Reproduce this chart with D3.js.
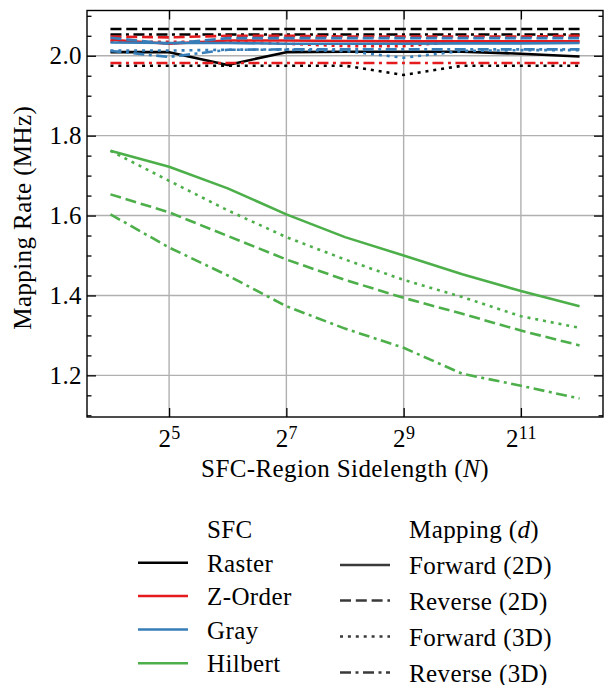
<!DOCTYPE html>
<html><head><meta charset="utf-8">
<script src="https://cdn.jsdelivr.net/npm/d3@7"></script>
<style>
body{margin:0;background:#fff}
text{font-family:"Liberation Serif","DejaVu Serif",serif;fill:#000;letter-spacing:0.4px}
</style>
</head><body><svg id="c" width="608" height="685"></svg>
<script>
// ---------------- data ----------------
const sizes = [16, 32, 64, 128, 256, 512, 1024, 2048, 4096];
const sfcNames = ["Raster", "Z-Order", "Gray", "Hilbert"];
const sfcColors = ["#000000", "#e41a1c", "#377eb8", "#4daf4a"];
const mappingNames = ["Forward (2D)", "Reverse (2D)", "Forward (3D)", "Reverse (3D)"];

const rasterFwd2D  = [2.009, 2.009, 1.977, 2.009, 2.010, 2.010, 2.010, 2.005, 1.998];
const rasterRev2D  = [2.067, 2.067, 2.067, 2.067, 2.067, 2.067, 2.067, 2.067, 2.067];
const rasterFwd3D  = [1.975, 1.975, 1.975, 1.975, 1.975, 1.952, 1.975, 1.975, 1.975];
const rasterRev3D  = [2.053, 2.053, 2.053, 2.053, 2.053, 2.053, 2.053, 2.053, 2.053];

const zorderFwd2D  = [2.040, 2.030, 2.038, 2.038, 2.037, 2.036, 2.036, 2.036, 2.036];
const zorderRev2D  = [2.048, 2.046, 2.050, 2.050, 2.048, 2.048, 2.048, 2.048, 2.050];
const zorderFwd3D  = [2.035, 2.035, 2.035, 2.030, 2.024, 2.024, 2.036, 2.036, 2.036];
const zorderRev3D  = [1.982, 1.982, 1.982, 1.982, 1.982, 1.982, 1.982, 1.982, 1.982];

const grayFwd2D    = [2.033, 2.032, 2.032, 2.030, 2.030, 2.030, 2.031, 2.031, 2.032];
const grayRev2D    = [2.045, 2.030, 2.044, 2.044, 2.044, 2.044, 2.044, 2.044, 2.044];
const grayFwd3D    = [2.013, 2.013, 2.015, 2.015, 2.012, 1.995, 2.012, 2.014, 2.014];
const grayRev3D    = [2.012, 1.997, 2.015, 2.016, 2.016, 2.016, 2.016, 2.016, 2.016];

const hilbertFwd2D = [1.762, 1.722, 1.668, 1.603, 1.546, 1.500, 1.453, 1.411, 1.373];
const hilbertRev2D = [1.653, 1.608, 1.549, 1.490, 1.439, 1.394, 1.354, 1.312, 1.275];
const hilbertFwd3D = [1.762, 1.687, 1.613, 1.546, 1.490, 1.439, 1.396, 1.348, 1.319];
const hilbertRev3D = [1.603, 1.520, 1.450, 1.373, 1.317, 1.269, 1.204, 1.174, 1.142];

const seriesValues = [
  [rasterFwd2D, rasterRev2D, rasterFwd3D, rasterRev3D],
  [zorderFwd2D, zorderRev2D, zorderFwd3D, zorderRev3D],
  [grayFwd2D, grayRev2D, grayFwd3D, grayRev3D],
  [hilbertFwd2D, hilbertRev2D, hilbertFwd3D, hilbertRev3D]
];

const xTickExps = [5, 7, 9, 11];
const yMajorTicks = [1.2, 1.4, 1.6, 1.8, 2.0];
const yMinorTicks = [1.1, 1.15, 1.25, 1.3, 1.35, 1.45, 1.5, 1.55, 1.65, 1.7, 1.75, 1.85, 1.9, 1.95, 2.05, 2.1];
const xLabel = "SFC-Region Sidelength";
const yLabel = "Mapping Rate (MHz)";

// ---------------- layout ----------------
const FS = "25px";
const svg = d3.select("#c");
const L = 87, R = 603, T = 10.5, B = 417;
const W = R - L, H = B - T;
const dashes = [null, "11,4.8", "3,4.9", "11,4.5,3,4.5"];
const lw = 2.6;

const allVals = seriesValues.flat(2);
const vmin = d3.min(allVals), vmax = d3.max(allVals), pad = (vmax - vmin) * 0.05;
const x = d3.scaleLog().base(2).domain([Math.pow(2, 3.6), Math.pow(2, 12.4)]).range([0, W]);
const y = d3.scaleLinear().domain([vmin - pad, vmax + pad]).range([H, 0]);

const g = svg.append("g").attr("transform", `translate(${L},${T})`);

// grid
g.append("g").selectAll("line").data(xTickExps).join("line")
  .attr("x1", d => x(Math.pow(2, d))).attr("x2", d => x(Math.pow(2, d)))
  .attr("y1", 0).attr("y2", H).attr("stroke", "#b0b0b0").attr("stroke-width", 1.4);
g.append("g").selectAll("line").data(yMajorTicks).join("line")
  .attr("y1", d => y(d)).attr("y2", d => y(d))
  .attr("x1", 0).attr("x2", W).attr("stroke", "#b0b0b0").attr("stroke-width", 1.4);

// lines
const line = d3.line().x((d, i) => x(sizes[i])).y(d => y(d));
svg.append("clipPath").attr("id", "clp").append("rect").attr("width", W).attr("height", H);
const lg = g.append("g").attr("clip-path", "url(#clp)");
seriesValues.forEach((group, si) => {
  group.forEach((vals, mi) => {
    lg.append("path").datum(vals).attr("d", line)
      .attr("fill", "none").attr("stroke", sfcColors[si]).attr("stroke-width", lw)
      .attr("stroke-dasharray", dashes[mi]).attr("stroke-linejoin", "round");
  });
});

// axes
function styleAxis(sel) {
  sel.attr("font-family", null).attr("font-size", null);
  sel.select(".domain").remove();
  sel.selectAll(".tick line").attr("stroke", "#000").attr("stroke-width", 1.3);
  sel.selectAll("text").style("font-size", FS).attr("fill", "#000");
}
g.append("g").call(d3.axisLeft(y).tickValues(yMajorTicks).tickSize(-9).tickPadding(5).tickFormat(d3.format(".1f"))).call(styleAxis);
g.append("g").call(d3.axisLeft(y).tickValues(yMinorTicks).tickSize(-4.5).tickFormat("")).call(styleAxis);
g.append("g").attr("transform", `translate(${W},0)`).call(d3.axisRight(y).tickValues(yMajorTicks).tickSize(-9).tickFormat("")).call(styleAxis);
g.append("g").attr("transform", `translate(${W},0)`).call(d3.axisRight(y).tickValues(yMinorTicks).tickSize(-4.5).tickFormat("")).call(styleAxis);
const xt = xTickExps.map(e => Math.pow(2, e));
const xa = g.append("g").attr("transform", `translate(0,${H})`)
  .call(d3.axisBottom(x).tickValues(xt).tickSize(-9).tickPadding(14).tickFormat("")).call(styleAxis);
g.append("g").call(d3.axisTop(x).tickValues(xt).tickSize(-9).tickFormat("")).call(styleAxis);

xa.selectAll(".tick text").each(function(d) {
  const t = d3.select(this).attr("y", 30.3).attr("dy", null);
  t.append("tspan").text("2");
  t.append("tspan").attr("dy", -8.5).style("font-size", "18px").text(Math.round(Math.log2(d)));
});

// frame
g.append("rect").attr("width", W).attr("height", H).attr("fill", "none").attr("stroke", "#000").attr("stroke-width", 1.4);

// axis labels
const xl = svg.append("text").attr("x", L + W / 2).attr("y", 477).attr("text-anchor", "middle").style("font-size", FS);
xl.append("tspan").text(xLabel + " (");
xl.append("tspan").style("font-style", "italic").text("N");
xl.append("tspan").text(")");
svg.append("text").attr("transform", `translate(30.5,${T + H / 2 + 4}) rotate(-90)`).attr("text-anchor", "middle")
  .style("font-size", FS).text(yLabel);

// legend
const leg = svg.append("g");
leg.append("text").attr("x", 207).attr("y", 537.5).style("font-size", FS).text("SFC");
const t2 = leg.append("text").attr("x", 409).attr("y", 537.5).style("font-size", FS);
t2.append("tspan").text("Mapping (");
t2.append("tspan").style("font-style", "italic").text("d");
t2.append("tspan").text(")");

const col1Y = [562.7, 596, 629.5, 663.3];
const col2Y = [565, 600.5, 636.5, 672.5];
const c1 = leg.selectAll("g.c1").data(sfcNames).join("g").attr("class", "c1")
  .attr("transform", (d, i) => `translate(0,${col1Y[i]})`);
c1.append("line").attr("x1", 138).attr("x2", 188).attr("stroke", (d, i) => sfcColors[i]).attr("stroke-width", lw);
c1.append("text").attr("x", 207).attr("y", 9).style("font-size", FS).text(d => d);

const c2 = leg.selectAll("g.c2").data(mappingNames).join("g").attr("class", "c2")
  .attr("transform", (d, i) => `translate(0,${col2Y[i]})`);
c2.append("line").attr("x1", 340).attr("x2", 390).attr("stroke", "#3a3a3a").attr("stroke-width", lw)
  .attr("stroke-dasharray", (d, i) => dashes[i]);
c2.append("text").attr("x", 409).attr("y", 9).style("font-size", FS).text(d => d);
</script></body></html>
